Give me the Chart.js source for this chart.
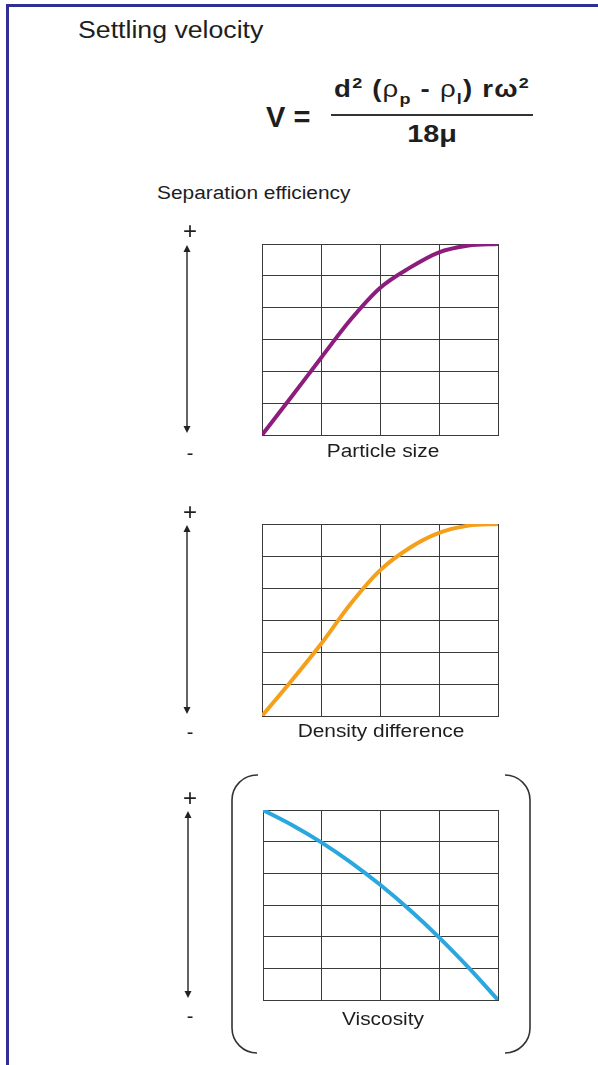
<!DOCTYPE html>
<html>
<head>
<meta charset="utf-8">
<title>Settling velocity</title>
<script src="https://cdn.jsdelivr.net/npm/chart.js@4"></script>
<style>
  html, body { margin: 0; padding: 0; background: #fff; }
  body { width: 598px; height: 1065px; position: relative; overflow: hidden;
         font-family: "Liberation Sans", Arial, sans-serif; color: #1e1e1e; }
  .frame { position: absolute; left: 6px; top: 4px; width: 620px; height: 1100px;
           border-top: 3px solid #2f2f94; border-left: 3px solid #2f2f94; }
  .t { position: absolute; white-space: nowrap; transform-origin: left center; transform: scaleX(1.16); }
  .c { position: absolute; text-align: center; white-space: nowrap; transform: scaleX(1.16); }
  .s { position: absolute; text-align: center; white-space: nowrap; }
  canvas { position: absolute; }
  .num, .den { position: absolute; left: 328px; width: 208px; text-align: center;
               font-weight: bold; white-space: nowrap; }
  .num { font-size: 23px; line-height: 23px; letter-spacing: 1px; transform: scaleX(1.2); }
  .den { font-size: 24px; line-height: 24px; transform: scaleX(1.2); }
  .num sup, .num sub { font-size: 15px; line-height: 0; }
  .num sub { vertical-align: -0.45em; }
  .num .g { font-weight: normal; }
  .bar { position: absolute; left: 331px; top: 114px; width: 202px; height: 2px; background: #333; }
  .plus { font-size: 24px; line-height: 24px; }
  .minus { font-size: 20px; line-height: 20px; }
</style>
</head>
<body>
<div class="frame"></div>

<div class="t" style="left:78px; top:19px; font-size:23px; line-height:23px;">Settling velocity</div>

<!-- formula -->
<div class="s" style="left:266px; top:103px; font-size:29px; line-height:29px; font-weight:bold;">V =</div>
<div class="num" style="top:78px;">d<sup>2</sup> (<span class="g">ρ</span><sub>p</sub> - <span class="g">ρ</span><sub>l</sub>) rω<sup>2</sup></div>
<div class="bar"></div>
<div class="den" style="top:122px;">18μ</div>

<div class="t" style="left:157px; top:184px; font-size:18px; line-height:18px;">Separation efficiency</div>

<canvas id="c1" width="400" height="270" style="left:150px; top:200px;"></canvas>
<canvas id="c2" width="400" height="270" style="left:150px; top:480px;"></canvas>
<canvas id="c3" width="400" height="300" style="left:150px; top:760px;"></canvas>

<!-- + / - signs -->
<div class="s plus" style="left:170px; width:40px; top:219px;">+</div>
<div class="s minus" style="left:170px; width:40px; top:443px;">-</div>
<div class="s plus" style="left:170px; width:40px; top:500px;">+</div>
<div class="s minus" style="left:170px; width:40px; top:722px;">-</div>
<div class="s plus" style="left:170px; width:40px; top:786px;">+</div>
<div class="s minus" style="left:170px; width:40px; top:1006px;">-</div>

<!-- axis names -->
<div class="c" style="left:283px; width:200px; top:442px; font-size:18px; line-height:18px;">Particle size</div>
<div class="c" style="left:281px; width:200px; top:722px; font-size:18px; line-height:18px;">Density difference</div>
<div class="c" style="left:283px; width:200px; top:1010px; font-size:18px; line-height:18px;">Viscosity</div>

<script>
// x positions shared by all three curves (4 grid columns)
const xValues = [0, 0.5, 1, 1.5, 2, 2.5, 3, 3.5, 4];
// separation efficiency (0..6 = 6 grid rows)
const particleSize = [0, 1.2, 2.42, 3.62, 4.62, 5.25, 5.74, 5.95, 6.0];
const densityDiff = [0, 1.1, 2.25, 3.5, 4.55, 5.25, 5.72, 5.95, 6.0];
const viscosity = [6, 5.52, 4.97, 4.34, 3.63, 2.84, 1.97, 1.02, 0];
const xTicks = [0, 1, 2, 3, 4];
const yTicks = [0, 1, 2, 3, 4, 5, 6];

const GRID = "#3a3a3a";

// vertical double arrow to the left of the grid
const arrowPlugin = {
    id: "arrow",
    afterDraw(chart) {
        const { ctx, chartArea } = chart;
        const x = chartArea.left - 75;
        const y1 = chartArea.top + 1, y2 = chartArea.bottom - 2;
        ctx.save();
        ctx.strokeStyle = "#222";
        ctx.fillStyle = "#222";
        ctx.lineWidth = 1.4;
        ctx.beginPath();
        ctx.moveTo(x, y1 + 5);
        ctx.lineTo(x, y2 - 5);
        ctx.stroke();
        ctx.beginPath();
        ctx.moveTo(x, y1); ctx.lineTo(x - 3.5, y1 + 7); ctx.lineTo(x + 3.5, y1 + 7);
        ctx.closePath(); ctx.fill();
        ctx.beginPath();
        ctx.moveTo(x, y2); ctx.lineTo(x - 3.5, y2 - 7); ctx.lineTo(x + 3.5, y2 - 7);
        ctx.closePath(); ctx.fill();
        ctx.restore();
    }
};

// round brackets around the viscosity chart
const bracketPlugin = {
    id: "bracket",
    afterDraw(chart, args, opts) {
        if (!opts.show) return;
        const { ctx, chartArea } = chart;
        const lx = chartArea.left - 31, rx = chartArea.right + 32;
        const ty = chartArea.top - 35, by = chartArea.bottom + 53;
        const r = 25;
        ctx.save();
        ctx.strokeStyle = "#333";
        ctx.lineWidth = 1.6;
        ctx.beginPath();
        ctx.moveTo(lx + r + 1, ty);
        ctx.arcTo(lx, ty, lx, ty + r, r);
        ctx.lineTo(lx, by - r);
        ctx.arcTo(lx, by, lx + r + 1, by, r);
        ctx.stroke();
        ctx.beginPath();
        ctx.moveTo(rx - r, ty);
        ctx.arcTo(rx, ty, rx, ty + r, r);
        ctx.lineTo(rx, by - r);
        ctx.arcTo(rx, by, rx - r, by, r);
        ctx.stroke();
        ctx.restore();
    }
};

function makeChart(id, values, color, padding, bracket) {
    const pts = xValues.map((x, i) => ({ x: x, y: values[i] }));
    return new Chart(document.getElementById(id), {
        type: "line",
        data: {
            datasets: [{
                data: pts,
                borderColor: color,
                borderWidth: 4,
                pointRadius: 0,
                cubicInterpolationMode: "monotone",
                fill: false
            }]
        },
        options: {
            responsive: false,
            animation: false,
            layout: { padding: padding },
            plugins: {
                legend: { display: false },
                tooltip: { enabled: false },
                bracket: { show: bracket }
            },
            scales: {
                x: {
                    type: "linear", min: 0, max: 4,
                    afterBuildTicks: s => { s.ticks = xTicks.map(v => ({ value: v })); },
                    afterFit: s => { s.height = 0; },
                    ticks: { display: false },
                    grid: { color: GRID, lineWidth: 1, drawTicks: false },
                    border: { display: true, color: GRID, width: 1 }
                },
                y: {
                    type: "linear", min: 0, max: 6,
                    afterBuildTicks: s => { s.ticks = yTicks.map(v => ({ value: v })); },
                    afterFit: s => { s.width = 0; },
                    ticks: { display: false },
                    grid: { color: GRID, lineWidth: 1, drawTicks: false },
                    border: { display: true, color: GRID, width: 1 }
                }
            }
        },
        plugins: [arrowPlugin, bracketPlugin]
    });
}

document.addEventListener("DOMContentLoaded", () => {
    makeChart("c1", particleSize, "#8c1d7d", { left: 112, right: 52, top: 44, bottom: 35 }, false);
    makeChart("c2", densityDiff, "#f5a01a", { left: 112, right: 52, top: 44, bottom: 34 }, false);
    makeChart("c3", viscosity, "#2aa7df", { left: 113, right: 52, top: 50, bottom: 60 }, true);
});
</script>
</body>
</html>
